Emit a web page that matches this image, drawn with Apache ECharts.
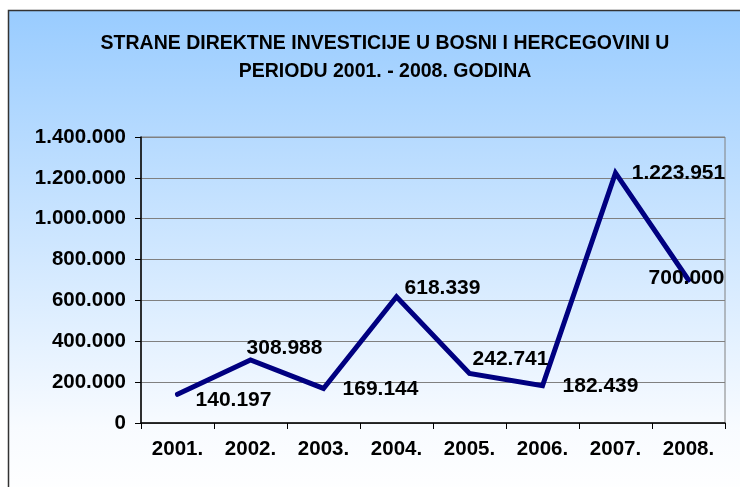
<!DOCTYPE html>
<html>
<head>
<meta charset="utf-8">
<script src="https://cdn.jsdelivr.net/npm/echarts@6/dist/echarts.min.js"></script>
<style>
  html, body { margin: 0; padding: 0; background: #fff; }
  #chart { width: 740px; height: 487px; }
</style>
</head>
<body>
<div id="chart"></div>
<script>
// godine i iznosi (KM)
let years = ['2001.', '2002.', '2003.', '2004.', '2005.', '2006.', '2007.', '2008.'];
let investments = [140197, 308988, 169144, 618339, 242741, 182439, 1223951, 700000];
let yTicks = [0, 200000, 400000, 600000, 800000, 1000000, 1200000, 1400000];

// where each data label sits relative to its point (layout only)
let labelOffsets = [[56, 6], [34, -12], [57, 1], [46, -8], [41, -14], [58, 0], [63, 0], [-2, -2]];

let fmt = function (v) {
    return String(v).replace(/\B(?=(\d{3})+(?!\d))/g, '.');
};

let chart = echarts.init(document.getElementById('chart'));
let font = 'Liberation Sans, Arial, sans-serif';

let option = {
    backgroundColor: '#ffffff',
    animation: false,
    graphic: [{
        type: 'rect',
        z: -10,
        shape: { x: 8.5, y: 10.5, width: 740, height: 490 },
        style: {
            fill: new echarts.graphic.LinearGradient(0, 0, 0, 1, [
                { offset: 0, color: '#99ccff' },
                { offset: 0.85, color: '#f8fbff' },
                { offset: 1, color: '#ffffff' }
            ]),
            stroke: '#333333',
            lineWidth: 1.5
        }
    }],
    title: {
        text: 'STRANE DIREKTNE INVESTICIJE U BOSNI I HERCEGOVINI U\nPERIODU 2001. - 2008. GODINA',
        left: 380,
        top: 25,
        textAlign: 'center',
        textStyle: {
            fontFamily: font,
            fontWeight: 'bold',
            fontSize: 19.5,
            lineHeight: 28,
            color: '#000'
        }
    },
    grid: {
        left: 141,
        right: 15,
        top: 137,
        bottom: 64,
        show: true,
        borderColor: '#808080',
        borderWidth: 1,
        backgroundColor: 'transparent'
    },
    xAxis: {
        type: 'category',
        data: years,
        boundaryGap: true,
        axisLine: { lineStyle: { color: '#000', width: 1.5 } },
        axisTick: { show: true, length: 6, lineStyle: { color: '#000' } },
        axisLabel: {
            margin: 16,
            fontFamily: font,
            fontWeight: 'bold',
            fontSize: 20.5,
            color: '#000'
        },
        splitLine: { show: false }
    },
    yAxis: {
        type: 'value',
        min: yTicks[0],
        max: yTicks[yTicks.length - 1],
        interval: yTicks[1] - yTicks[0],
        axisLine: { show: true, lineStyle: { color: '#000', width: 1.5 } },
        axisTick: { show: true, length: 6, lineStyle: { color: '#000' } },
        axisLabel: {
            margin: 15,
            fontFamily: font,
            fontWeight: 'bold',
            fontSize: 20.5,
            color: '#000',
            formatter: fmt
        },
        splitLine: { show: true, lineStyle: { color: '#808080', width: 1 } }
    },
    series: [{
        type: 'line',
        data: investments.map((v, i) => ({
            value: v,
            label: { offset: labelOffsets[i] }
        })),
        symbol: 'circle',
        symbolSize: 1,
        showSymbol: true,
        itemStyle: { color: '#000080' },
        lineStyle: { color: '#000080', width: 5, cap: 'round', join: 'miter' },
        label: {
            show: true,
            position: 'inside',
            align: 'center',
            verticalAlign: 'middle',
            fontFamily: font,
            fontWeight: 'bold',
            fontSize: 21,
            color: '#000',
            formatter: (p) => fmt(p.value)
        },
        z: 5
    }]
};
chart.setOption(option);
</script>
</body>
</html>
